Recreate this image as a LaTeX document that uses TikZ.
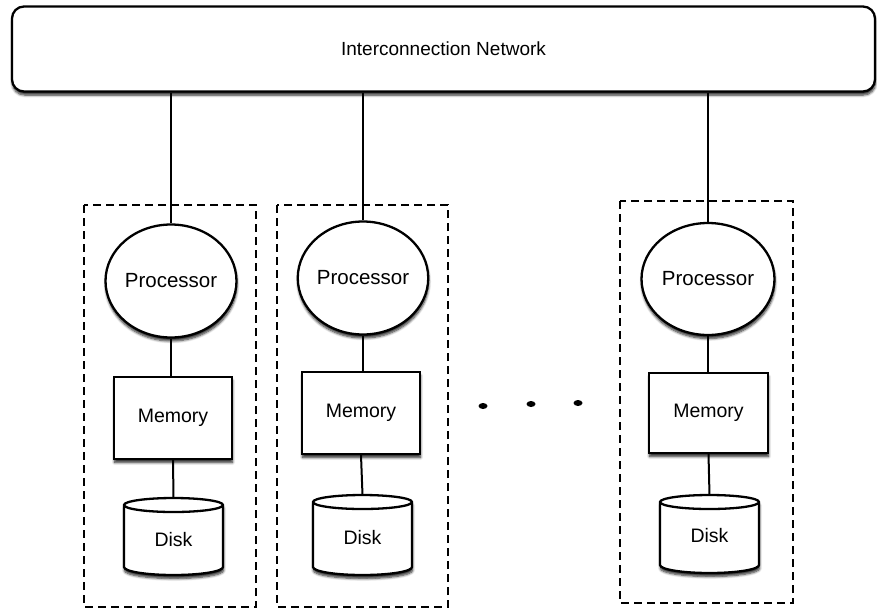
\documentclass[tikz,border=0pt]{standalone}
\usepackage{fontspec}
\setmainfont{Liberation Sans}
\usetikzlibrary{shapes.geometric,shadows.blur}
\begin{document}
\begin{tikzpicture}[x=1pt,y=1pt,
  outl/.style={draw=black,line width=2.3pt},
  shad/.style={blur shadow={shadow xshift=0.5pt,shadow yshift=-3.5pt,shadow blur steps=6,shadow opacity=85,shadow blur radius=2.5pt}},
  netbox/.style={outl,shad,fill=white,rounded corners=12pt,inner sep=0pt,font=\fontsize{19}{23}\selectfont},
  procbox/.style={outl,shad,fill=white,ellipse,inner sep=0pt,font=\fontsize{20.5}{24}\selectfont},
  membox/.style={outl,shad,fill=white,rectangle,inner sep=0pt,font=\fontsize{19.5}{23}\selectfont},
  disktext/.style={inner sep=0pt,font=\fontsize{19.5}{23}\selectfont},
  wire/.style={draw=black,line width=2pt},
  groupbox/.style={draw=black,line width=2pt,dash pattern=on 8pt off 5pt},
  dotmark/.style={fill=black,draw=none}
]
\useasboundingbox (0,0) rectangle (877,-611);
% network
\node[netbox,minimum width=863pt,minimum height=85pt] (net) at (443.5,-49) {Interconnection Network};
% groups
\draw[groupbox] (84,-205) rectangle (256,-607);
\draw[groupbox] (277,-205) rectangle (448,-607);
\draw[groupbox] (620,-201) rectangle (793,-603);
% column 1
\node[procbox,minimum width=131pt,minimum height=113pt] (p1) at (171,-281) {Processor};
\node[membox,minimum width=118pt,minimum height=82pt] (m1) at (173,-418) {Memory};
\coordinate (dt1) at (173.5,-498);
\draw[outl,shad,fill=white] (124,-505) -- (124,-567) arc (180:360:49.5 and 8) -- (223,-505) arc (0:180:49.5 and 7) -- cycle;
\draw[outl] (124,-505) arc (180:360:49.5 and 7);
\node[disktext] (d1) at (173.5,-540) {Disk};
% column 2
\node[procbox,minimum width=130pt,minimum height=113pt] (p2) at (363,-278) {Processor};
\node[membox,minimum width=118pt,minimum height=82pt] (m2) at (361,-413) {Memory};
\coordinate (dt2) at (362.5,-495);
\draw[outl,shad,fill=white] (313,-502) -- (313,-567) arc (180:360:49.5 and 8) -- (412,-502) arc (0:180:49.5 and 7) -- cycle;
\draw[outl] (313,-502) arc (180:360:49.5 and 7);
\node[disktext] (d2) at (362.5,-538) {Disk};
% column 3
\node[procbox,minimum width=133pt,minimum height=112pt] (p3) at (708,-279) {Processor};
\node[membox,minimum width=119pt,minimum height=80pt] (m3) at (708.5,-413) {Memory};
\coordinate (dt3) at (709.5,-495);
\draw[outl,shad,fill=white] (660,-502) -- (660,-565) arc (180:360:49.5 and 8) -- (759,-502) arc (0:180:49.5 and 7) -- cycle;
\draw[outl] (660,-502) arc (180:360:49.5 and 7);
\node[disktext] (d3) at (709.5,-536) {Disk};
% wires
\draw[wire] (p1.north |- net.south) -- (p1.north);
\draw[wire] (p2.north |- net.south) -- (p2.north);
\draw[wire] (p3.north |- net.south) -- (p3.north);
\draw[wire] (p1.south) -- (m1.north -| p1.south);
\draw[wire] (p2.south) -- (m2.north -| p2.south);
\draw[wire] (p3.south) -- (m3.north -| p3.south);
\draw[wire] (m1.south) -- (dt1);
\draw[wire] (m2.south) -- (dt2);
\draw[wire] (m3.south) -- (dt3);
% dots
\fill[dotmark] (483,-406) ellipse (4.5 and 3);
\fill[dotmark] (531,-404) ellipse (4.5 and 3);
\fill[dotmark] (578,-403) ellipse (4.5 and 3);
\end{tikzpicture}
\end{document}
